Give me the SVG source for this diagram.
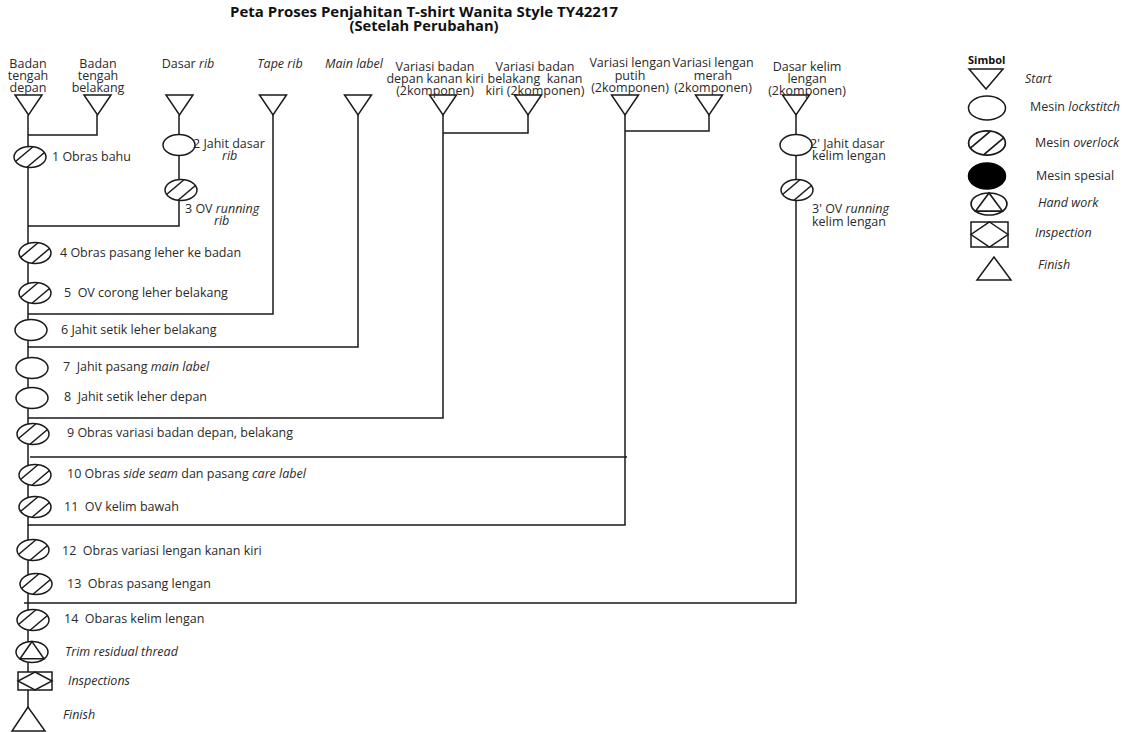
<svg xmlns="http://www.w3.org/2000/svg" xmlns:xlink="http://www.w3.org/1999/xlink" width="1128" height="732" viewBox="0 0 1128 732">
<style>
text{font-family:"Open Sans","Liberation Sans",sans-serif;font-size:12.5px;fill:#2a2a2a}
.t{font-weight:bold;font-size:13.5px;fill:#111}
.m{text-anchor:middle}
.i{font-style:italic}
.sh{fill:#fff;stroke:#1a1a1a;stroke-width:1.5}
.ln{fill:none;stroke:#1a1a1a;stroke-width:1.5}
</style>
<defs>
<g id="st"><polygon class="sh" points="-13.5,0 13.5,0 0,20"/></g>
<g id="ls"><ellipse class="sh" cx="0" cy="0" rx="16" ry="10.5"/></g>
<g id="ov"><ellipse class="sh" cx="0" cy="0" rx="16" ry="10.5"/><line class="ln" x1="-14.5" y1="4.5" x2="3" y2="-10.3"/><line class="ln" x1="-3" y1="10.3" x2="14.5" y2="-4.5"/></g>
<g id="hw"><ellipse class="sh" cx="0" cy="0" rx="16" ry="10.5"/><polygon class="ln" points="0,-10.5 -12,6.8 12,6.8"/></g>
<g id="in"><rect class="sh" x="-17" y="-9" width="34" height="18"/><polygon class="ln" points="0,-9 17,0 0,9 -17,0"/></g>
</defs>
<g id="title">
<text class="t m" x="424" y="17" textLength="388" lengthAdjust="spacingAndGlyphs">Peta Proses Penjahitan T-shirt Wanita Style TY42217</text>
<text class="t m" x="424" y="31" textLength="149" lengthAdjust="spacingAndGlyphs">(Setelah Perubahan)</text>
</g>
<g id="connectors">
<path class="ln" d="M28,115 V707"/>
<path class="ln" d="M97,115 V135 H28"/>
<path class="ln" d="M179,115 V226 H28"/>
<path class="ln" d="M273,115 V314 H28"/>
<path class="ln" d="M358,115 V347 H28"/>
<path class="ln" d="M443,115 V418 H28"/>
<path class="ln" d="M528,115 V133 H443"/>
<path class="ln" d="M625,115 V525 H28"/>
<path class="ln" d="M30,457 H627"/>
<path class="ln" d="M709,115 V131 H625"/>
<path class="ln" d="M796,115 V603 H24"/>
</g>
<g id="s-badan-depan"><use xlink:href="#st" x="28.5" y="95"/><text class="m" x="28" y="68">Badan</text><text class="m" x="28" y="80">tengah</text><text class="m" x="28" y="92">depan</text></g>
<g id="s-badan-belakang"><use xlink:href="#st" x="97.5" y="95"/><text class="m" x="98" y="68">Badan</text><text class="m" x="98" y="80">tengah</text><text class="m" x="98" y="92">belakang</text></g>
<g id="s-dasar-rib"><use xlink:href="#st" x="179.5" y="95"/><text class="m" x="188" y="68">Dasar <tspan class="i">rib</tspan></text></g>
<g id="s-tape-rib"><use xlink:href="#st" x="273" y="95"/><text class="m i" x="280" y="68">Tape rib</text></g>
<g id="s-main-label"><use xlink:href="#st" x="358" y="95"/><text class="m i" x="354" y="68">Main label</text></g>
<g id="s-var-badan-depan"><use xlink:href="#st" x="443" y="95"/><text class="m" x="435" y="71">Variasi badan</text><text class="m" x="435" y="83">depan kanan kiri</text><text class="m" x="435" y="95">(2komponen)</text></g>
<g id="s-var-badan-belakang"><use xlink:href="#st" x="528" y="95"/><text class="m" x="535" y="71">Variasi badan</text><text class="m" x="535" y="83" xml:space="preserve">belakang  kanan</text><text class="m" x="535" y="95">kiri (2komponen)</text></g>
<g id="s-var-lengan-putih"><use xlink:href="#st" x="625" y="95"/><text class="m" x="630" y="67">Variasi lengan</text><text class="m" x="630" y="80">putih</text><text class="m" x="630" y="92">(2komponen)</text></g>
<g id="s-var-lengan-merah"><use xlink:href="#st" x="709" y="95"/><text class="m" x="713" y="67">Variasi lengan</text><text class="m" x="713" y="80">merah</text><text class="m" x="713" y="92">(2komponen)</text></g>
<g id="s-dasar-kelim"><use xlink:href="#st" x="796" y="95"/><text class="m" x="807" y="71">Dasar kelim</text><text class="m" x="807" y="83">lengan</text><text class="m" x="807" y="95">(2komponen)</text></g>
<g id="n1"><use xlink:href="#ov" x="30" y="157"/><text x="52" y="161">1 Obras bahu</text></g>
<g id="n2"><use xlink:href="#ls" x="179" y="145"/><text x="193" y="148">2 Jahit dasar</text><text class="i" x="222" y="160">rib</text></g>
<g id="n3"><use xlink:href="#ov" x="181" y="190"/><text x="185" y="213">3 OV <tspan class="i">running</tspan></text><text class="i" x="214" y="225">rib</text></g>
<g id="n4"><use xlink:href="#ov" x="35" y="253"/><text x="60" y="257">4 Obras pasang leher ke badan</text></g>
<g id="n5"><use xlink:href="#ov" x="35" y="293"/><text x="64" y="297" xml:space="preserve">5  OV corong leher belakang</text></g>
<g id="n6"><use xlink:href="#ls" x="31" y="330"/><text x="61" y="334">6 Jahit setik leher belakang</text></g>
<g id="n7"><use xlink:href="#ls" x="32" y="368"/><text x="63" y="371" xml:space="preserve">7  Jahit pasang <tspan class="i">main label</tspan></text></g>
<g id="n8"><use xlink:href="#ls" x="32" y="398"/><text x="64" y="401" xml:space="preserve">8  Jahit setik leher depan</text></g>
<g id="n9"><use xlink:href="#ov" x="33" y="434"/><text x="67" y="437">9 Obras variasi badan depan, belakang</text></g>
<g id="n10"><use xlink:href="#ov" x="35" y="475"/><text x="67" y="478">10 Obras <tspan class="i">side seam</tspan> dan pasang <tspan class="i">care label</tspan></text></g>
<g id="n11"><use xlink:href="#ov" x="35" y="507"/><text x="64" y="511" xml:space="preserve">11  OV kelim bawah</text></g>
<g id="n12"><use xlink:href="#ov" x="33" y="550"/><text x="62" y="555" xml:space="preserve">12  Obras variasi lengan kanan kiri</text></g>
<g id="n13"><use xlink:href="#ov" x="36" y="584"/><text x="67" y="588" xml:space="preserve">13  Obras pasang lengan</text></g>
<g id="n14"><use xlink:href="#ov" x="33" y="620"/><text x="64" y="623" xml:space="preserve">14  Obaras kelim lengan</text></g>
<g id="n-trim"><use xlink:href="#hw" x="32" y="652"/><text class="i" x="65" y="656">Trim residual thread</text></g>
<g id="n-insp"><use xlink:href="#in" x="35" y="681"/><text class="i" x="68" y="685">Inspections</text></g>
<g id="n-finish"><polygon class="sh" points="28,707 12,731 45,731"/><text class="i" x="63" y="719">Finish</text></g>
<g id="n2p"><use xlink:href="#ls" x="796" y="145"/><text x="810" y="148">2' Jahit dasar</text><text x="812" y="160">kelim lengan</text></g>
<g id="n3p"><use xlink:href="#ov" x="797" y="190"/><text x="812" y="213">3' OV <tspan class="i">running</tspan></text><text x="812" y="226">kelim lengan</text></g>
<g id="legend">
<text x="968" y="64" style="font-size:11px;font-weight:bold;fill:#111">Simbol</text>
<polygon class="sh" points="969,69 1003,69 986,89"/><text class="i" x="1025" y="83">Start</text>
<ellipse class="sh" cx="987" cy="108" rx="18.5" ry="12"/><text x="1030" y="111">Mesin <tspan class="i">lockstitch</tspan></text>
<g transform="translate(987,143) scale(1.15)"><use xlink:href="#ov"/></g><text x="1035" y="147">Mesin <tspan class="i">overlock</tspan></text>
<ellipse cx="987" cy="176" rx="18.5" ry="13" fill="#000" stroke="#000" stroke-width="1.5"/><text x="1036" y="180">Mesin spesial</text>
<g transform="translate(989,204) scale(1.12,1.05)"><use xlink:href="#hw"/></g><text class="i" x="1038" y="207">Hand work</text>
<rect class="sh" x="971" y="222" width="37" height="25"/><polygon class="ln" points="989.5,222 1008,234.5 989.5,247 971,234.5"/><text class="i" x="1035" y="237">Inspection</text>
<polygon class="sh" points="994,257 977,280 1011,280"/><text class="i" x="1038" y="269">Finish</text>
</g>
</svg>
